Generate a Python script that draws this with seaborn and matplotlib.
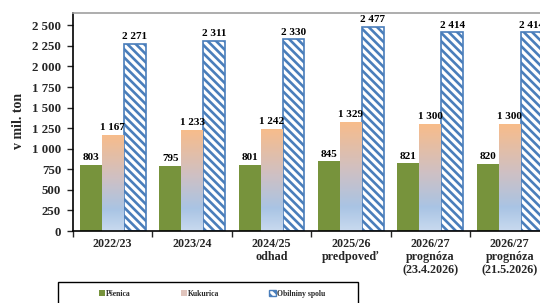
import matplotlib
matplotlib.use("Agg")
import matplotlib.pyplot as plt
import seaborn as sns
import numpy as np
import pandas as pd
from matplotlib.patches import Patch, Rectangle
from matplotlib.colors import LinearSegmentedColormap
from matplotlib.ticker import FixedLocator, FuncFormatter

# ---- data ----
categories = ["2022/23", "2023/24", "2024/25\nodhad", "2025/26\npredpoveď",
              "2026/27\nprognóza\n(23.4.2026)", "2026/27\nprognóza\n(21.5.2026)"]
series = ["Pšenica", "Kukurica", "Obilniny spolu"]
psenica = [803, 795, 801, 845, 821, 820]
kukurica = [1167, 1233, 1242, 1329, 1300, 1300]
obilniny = [2271, 2311, 2330, 2477, 2414, 2414]
y_ticks = [0, 250, 500, 750, 1000, 1250, 1500, 1750, 2000, 2250, 2500]
y_label = "v mil. ton"

df = pd.DataFrame({
    "rok": categories * 3,
    "plodina": [s for s in series for _ in categories],
    "hodnota": psenica + kukurica + obilniny,
})

sns.set_theme(style="white")
plt.rcParams["font.family"] = ["Liberation Serif", "DejaVu Serif"]
plt.rcParams["font.weight"] = "bold"
plt.rcParams["hatch.linewidth"] = 1.9

GREEN = "#77933C"
BLUE = "#4A7EBB"
HATCH = "\\\\\\\\"

fig = plt.figure(figsize=(5.40, 3.03), dpi=100)
ax = fig.add_axes([73 / 540, 72 / 303, 476.5 / 540, 218 / 303])

sns.barplot(data=df, x="rok", y="hodnota", hue="plodina", hue_order=series,
            order=categories, palette=[GREEN, "#F4B183", "white"],
            width=0.83, gap=0, saturation=1, legend=False, ax=ax,
            errorbar=None)

cont_p, cont_k, cont_o = ax.containers[0], ax.containers[1], ax.containers[2]

for b in cont_p:
    b.set_edgecolor("none")
    b.set_linewidth(0)

# hatched total bars
for b in cont_o:
    b.set_facecolor("white")
    b.set_edgecolor(BLUE)
    b.set_hatch(HATCH)
    b.set_linewidth(1.2)

# gradient for Kukurica bars
grad_cmap = LinearSegmentedColormap.from_list(
    "kuk", [(0.0, "#C9DAEF"), (0.22, "#A9C4E4"), (0.55, "#CFC0C3"), (1.0, "#F8BC8A")])
grad = np.linspace(0, 1, 256).reshape(-1, 1)
for b in cont_k:
    x0, y0 = b.get_x(), b.get_y()
    w, h = b.get_width(), b.get_height()
    b.set_facecolor("none")
    b.set_edgecolor("none")
    im = ax.imshow(grad, cmap=grad_cmap, origin="lower", aspect="auto",
                   extent=(x0, x0 + w, y0, y0 + h), zorder=b.get_zorder())
    im.set_clip_path(b)

ax.set_xlim(-0.5, 5.5)
ax.set_ylim(0, 2650)

fmt = lambda v: f"{int(v):,}".replace(",", " ")
for cont, vals in zip([cont_p, cont_k, cont_o], [psenica, kukurica, obilniny]):
    ax.bar_label(cont, labels=[fmt(v) for v in vals], padding=2,
                 fontsize=8, fontweight="bold", color="black")

ax.yaxis.set_major_locator(FixedLocator(y_ticks))
ax.yaxis.set_major_formatter(FuncFormatter(lambda v, p: fmt(v)))
ax.tick_params(axis="y", which="major", length=4.5, width=1, direction="out",
               labelsize=9.3, pad=4, left=True)
ax.set_xticks(range(len(categories)))
ax.set_xticklabels(categories, fontsize=8.7, fontweight="bold", linespacing=1.15)
ax.tick_params(axis="x", which="major", length=0, pad=5)
ax.set_xticks(np.arange(-0.5, 6.0, 1.0), minor=True)
ax.tick_params(axis="x", which="minor", length=4, width=1, direction="out", bottom=True)
for lab in ax.get_yticklabels():
    lab.set_fontweight("bold")

ax.set_xlabel("")
ax.set_ylabel(y_label, fontsize=10, fontweight="bold", va="center")
ax.yaxis.set_label_coords(-0.115, 0.505)

for s in ["left", "bottom"]:
    ax.spines[s].set_color("black")
    ax.spines[s].set_linewidth(1.2)
ax.spines["top"].set_color("#A0A0A0")
ax.spines["top"].set_linewidth(1.2)
ax.spines["right"].set_visible(False)

# legend box
fig.patches.append(Rectangle((58 / 540, -0.05), 300 / 540, 0.05 + (303 - 282) / 303,
                             transform=fig.transFigure, fill=False,
                             edgecolor="black", linewidth=1.0))
handles = [Patch(facecolor=GREEN, edgecolor="none"),
           Patch(facecolor="#E0C4BC", edgecolor="none"),
           Patch(facecolor="white", edgecolor=BLUE, hatch=HATCH)]
fig.legend(handles, series, loc="center", bbox_to_anchor=(212 / 540, 1 - 294 / 303),
           ncol=3, frameon=False, prop={"size": 5.5, "weight": "bold"},
           handlelength=0.8, handleheight=0.8, handletextpad=0.2,
           columnspacing=6.5)

fig.savefig("out.png", dpi=100)
